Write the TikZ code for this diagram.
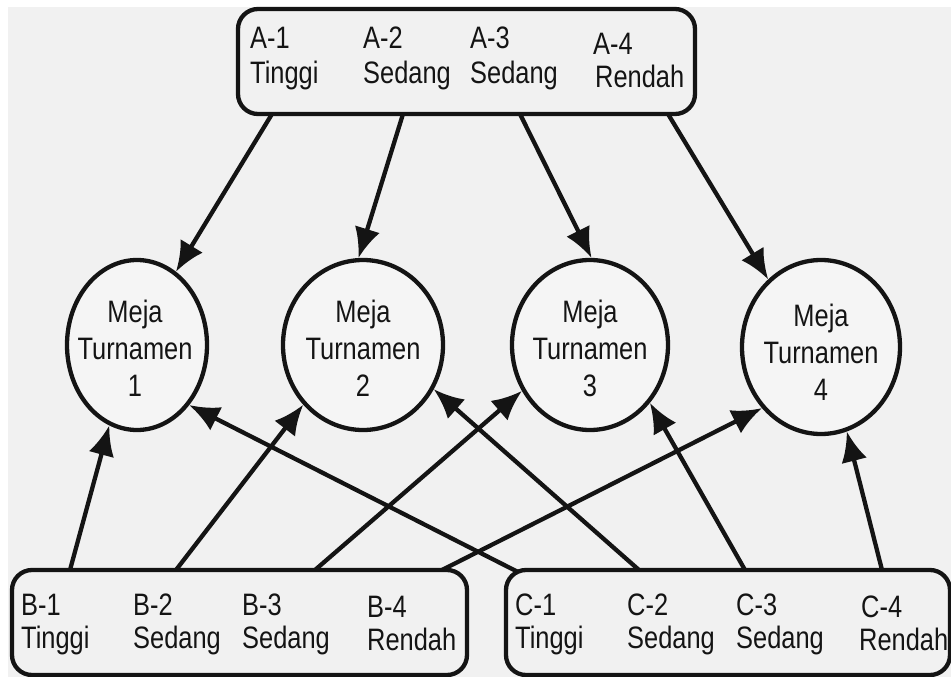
\documentclass[tikz,border=0pt]{standalone}
\usepackage{fontspec}
\setmainfont{Liberation Sans}[FakeStretch=0.82]
\usetikzlibrary{shapes.geometric,arrows.meta}
\definecolor{bg}{HTML}{F1F1F1}
\definecolor{inner}{HTML}{F5F5F5}
\definecolor{ink}{HTML}{141414}
\begin{document}
\begin{tikzpicture}[x=1pt,y=-1pt,
  box/.style={draw=ink, line width=4.3pt, rounded corners=20pt, inner sep=0pt},
  meja/.style={ellipse, draw=ink, line width=4.3pt, inner sep=0pt, fill=inner},
  txt/.style={anchor=base west, inner sep=0pt, font=\fontsize{31}{36}\selectfont, text=ink},
  ctxt/.style={align=center, inner sep=0pt, font=\fontsize{31}{37}\selectfont, text=ink},
  arr/.style={draw=ink, line width=4.3pt, -{Latex[length=30pt,width=26pt]}}]
\useasboundingbox (0,0) rectangle (951,677);
\fill[white] (0,0) rectangle (951,677);
\fill[bg] (8,7) rectangle (951,677);

% boxes
\node[box, minimum width=457pt, minimum height=105pt] (A) at (466.5,61.5) {};
\node[box, minimum width=455pt, minimum height=105pt] (B) at (239.5,622.5) {};
\node[box, minimum width=444pt, minimum height=105pt] (C) at (728,622.5) {};

% box texts
\node[txt] (a1) at (250,49) {A-1};  \node[txt] (a1t) at (250,84) {Tinggi};
\node[txt] (a2) at (363,49) {A-2};  \node[txt] (a2t) at (363,84) {Sedang};
\node[txt] (a3) at (470,49) {A-3};  \node[txt] (a3t) at (470,84) {Sedang};
\node[txt] (a4) at (593,55) {A-4};  \node[txt] (a4t) at (595,88) {Rendah};

\node[txt] (b1) at (21,615) {B-1};  \node[txt] (b1t) at (21,648) {Tinggi};
\node[txt] (b2) at (133,615) {B-2}; \node[txt] (b2t) at (133,648) {Sedang};
\node[txt] (b3) at (242,615) {B-3}; \node[txt] (b3t) at (242,648) {Sedang};
\node[txt] (b4) at (367,617) {B-4}; \node[txt] (b4t) at (367,650) {Rendah};

\node[txt] (k1) at (515,615) {C-1}; \node[txt] (k1t) at (515,648) {Tinggi};
\node[txt] (k2) at (627,615) {C-2}; \node[txt] (k2t) at (627,648) {Sedang};
\node[txt] (k3) at (736,615) {C-3}; \node[txt] (k3t) at (736,648) {Sedang};
\node[txt] (k4) at (861,617) {C-4}; \node[txt] (k4t) at (859,650) {Rendah};

% tables
\node[meja, minimum width=140pt, minimum height=170pt] (c1) at (137,345) {};
\node[meja, minimum width=160pt, minimum height=170pt] (c2) at (363,345) {};
\node[meja, minimum width=156pt, minimum height=170pt] (c3) at (590,345) {};
\node[meja, minimum width=158pt, minimum height=174pt] (c4) at (821,347) {};
\node[ctxt] (t1) at (135,348) {Meja\\Turnamen\\1};
\node[ctxt] (t2) at (363,348) {Meja\\Turnamen\\2};
\node[ctxt] (t3) at (590,348) {Meja\\Turnamen\\3};
\node[ctxt] (t4) at (821,352) {Meja\\Turnamen\\4};

% arrow start points
\coordinate (a1s) at (272,114);
\coordinate (a2s) at (403,114);
\coordinate (a3s) at (520,114);
\coordinate (a4s) at (668,114);
\coordinate (b1s) at (70,570);
\coordinate (b2s) at (176,570);
\coordinate (b3s) at (315,570);
\coordinate (b4s) at (442,570);
\coordinate (k1s) at (518,572);
\coordinate (k2s) at (639,570);
\coordinate (k3s) at (745,570);
\coordinate (k4s) at (882,570);

% arrows
\draw[arr] (a1s) -- (c1.62);
\draw[arr] (a2s) -- (c2.93);
\draw[arr] (a3s) -- (c3.89);
\draw[arr] (a4s) -- (c4.128);
\draw[arr] (b1s) -- (c1.251);
\draw[arr] (b2s) -- (c2.225);
\draw[arr] (b3s) -- (c3.214);
\draw[arr] (b4s) -- (c4.226);
\draw[arr] (k1s) -- (c1.311);
\draw[arr] (k2s) -- (c2.328);
\draw[arr] (k3s) -- (c3.316);
\draw[arr] (k4s) -- (c4.287);
\end{tikzpicture}
\end{document}
